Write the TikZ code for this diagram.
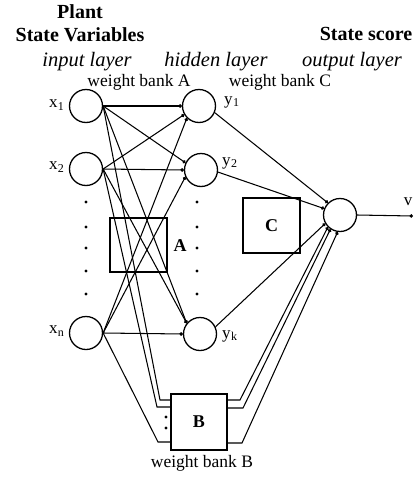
\documentclass[tikz,border=0pt]{standalone}
\usepackage{fontspec}
\setmainfont{Liberation Serif}
\usetikzlibrary{arrows.meta}
\newcommand{\mysub}[1]{\kern0.3pt\raisebox{-0.35ex}{\fontsize{12}{12}\selectfont #1}}
\begin{document}
\begin{tikzpicture}[x=1pt,y=-1pt,
  neuron/.style={circle,draw,line width=1.3pt,minimum size=33pt,inner sep=0pt},
  wbox/.style={draw,line width=1.2pt,inner sep=0pt},
  conn/.style={line width=1.05pt,-{Circle[length=3.4pt]}},
  plainln/.style={line width=1.05pt},
  dotm/.style={circle,fill,inner sep=0pt,minimum size=3.4pt},
  bt/.style={font=\fontsize{20}{22}\selectfont\bfseries,inner sep=0pt},
  it/.style={font=\fontsize{20.5}{22}\selectfont\itshape,inner sep=0pt},
  rt/.style={font=\fontsize{17.5}{19}\selectfont,inner sep=0pt},
  lbl/.style={font=\fontsize{17}{18}\selectfont,inner sep=0pt},
]
\useasboundingbox (0,0) rectangle (418,477);

% headings
\node[bt] (hplant) at (80,12) {Plant};
\node[bt] (hstate) at (80,35) {State Variables};
\node[bt] (hscore) at (366,34) {State score};
\node[it] (hin) at (87,62) {input layer};
\node[it] (hhid) at (216,62) {hidden layer};
\node[it] (hout) at (352,62) {output layer};
\node[rt] (wa) at (139,82) {weight bank A};
\node[rt] (wc) at (280,82) {weight bank C};
\node[rt] (wb) at (202,463) {weight bank B};

% neurons
\node[neuron] (x1) at (86,106) {};
\node[neuron] (x2) at (86,169) {};
\node[neuron] (xn) at (86,333) {};
\node[neuron] (y1) at (199,106) {};
\node[neuron] (y2) at (201,170) {};
\node[neuron] (yk) at (200,334) {};
\node[neuron] (out) at (340,215) {};

% labels
\node[lbl,anchor=east] (lx1) at (64,105) {x\mysub{1}};
\node[lbl,anchor=east] (lx2) at (64,167) {x\mysub{2}};
\node[lbl,anchor=east] (lxn) at (64,331) {x\mysub{n}};
\node[lbl,anchor=west] (ly1) at (224,102) {y\mysub{1}};
\node[lbl,anchor=west] (ly2) at (222,163) {y\mysub{2}};
\node[lbl,anchor=west] (lyk) at (222,336) {y\mysub{k}};
\node[lbl] (lv) at (408,202) {v};

% weight boxes
\node[wbox,minimum width=57pt,minimum height=54pt] (A) at (138.5,245) {};
\node[wbox,minimum width=57pt,minimum height=55pt,font=\fontsize{18}{19}\selectfont\bfseries] (C) at (271.5,225.5) {C};
\node[wbox,minimum width=56pt,minimum height=56pt,font=\fontsize{18}{19}\selectfont\bfseries] (B) at (199,422) {B};
\node[font=\fontsize{18}{19}\selectfont\bfseries,inner sep=0pt] (lA) at (180,246) {A};

% dots
\foreach \yy [count=\i] in {202,227,248,271,294}{
  \node[dotm] (dl\i) at (86,\yy) {};
  \node[dotm] (dr\i) at (197,\yy) {};
}
\node[dotm] (db1) at (166,417) {};
\node[dotm] (db2) at (166,428) {};

% input -> hidden (weight bank A)
\draw[conn] (x1.east) -- (y1.west);
\draw[conn] (x1.east) -- (y2.155);
\draw[conn] (x1.east) -- (yk.141);
\draw[conn] (x2.east) -- (y1.210);
\draw[conn] (x2.east) -- (y2.west);
\draw[conn] (x2.east) -- (yk.141);
\draw[conn] (xn.east) -- (y1.225);
\draw[conn] (xn.east) -- (y2.204);
\draw[conn] (xn.east) -- (yk.west);

% input -> weight bank B
\coordinate (ba1) at (160,400);
\coordinate (ba2) at (157,407);
\coordinate (ba3) at (158,442);
\draw[plainln] (x1.east) -- (ba1) -- (ba1 -| B.west);
\draw[plainln] (x2.east) -- (ba2) -- (ba2 -| B.west);
\draw[plainln] (xn.east) -- (ba3) -- (ba3 -| B.west);

% weight bank B -> output
\coordinate (bb1) at (240,400);
\coordinate (bb2) at (243,408);
\coordinate (bb3) at (242,443);
\draw[conn] (bb1 -| B.east) -- (bb1) -- (out.225);
\draw[conn] (bb2 -| B.east) -- (bb2) -- (out.236);
\draw[conn] (bb3 -| B.east) -- (bb3) -- (out.262);

% hidden -> output (weight bank C)
\draw[conn] (y1.-23) -- (out.135);
\draw[conn] (y2.-7) -- (out.158);
\draw[conn] (yk.25) -- (out.210);

% output
\coordinate (vend) at (413,216);
\draw[conn] (out.east) -- (vend);
\end{tikzpicture}
\end{document}
